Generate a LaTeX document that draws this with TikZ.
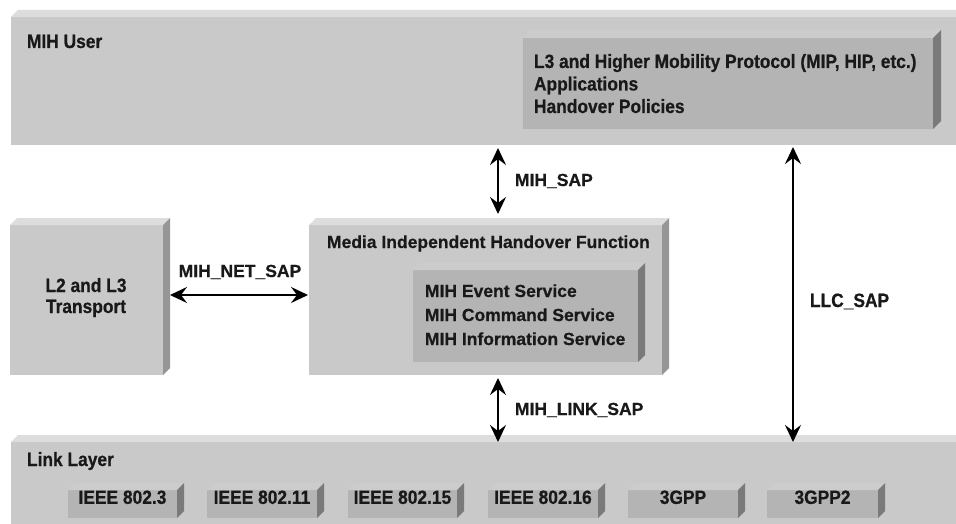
\documentclass[tikz,border=0pt]{standalone}
\usepackage{fontspec}
\setmainfont{Liberation Sans}
\newfontfamily\regf{Liberation Sans}[BoldFeatures={FakeBold=0.6}]
\newfontfamily\condf{Liberation Sans}[FakeStretch=0.9,BoldFeatures={FakeBold=0.6}]
\usetikzlibrary{arrows.meta,calc,fit}
\definecolor{outerface}{RGB}{201,201,201}
\definecolor{outertop}{RGB}{221,221,221}
\definecolor{outerside}{RGB}{150,150,150}
\definecolor{innerface}{RGB}{180,180,180}
\definecolor{innertop}{RGB}{204,204,204}
\definecolor{innerside}{RGB}{122,122,122}
\newcommand\bev[4]{%
  \fill[#3] (#1.north west) -- ++(#2,-#2) -- ($(#1.north east)+(#2,-#2)$) -- (#1.north east) -- cycle;
  \fill[#4] (#1.north east) -- ++(#2,-#2) -- ($(#1.south east)+(#2,-#2)$) -- (#1.south east) -- cycle;
}
\tikzset{
  outerbox/.style={fill=outerface, inner sep=0pt, outer sep=0pt},
  innerbox/.style={fill=innerface, inner sep=0pt, outer sep=0pt},
  regtxt/.style={inner sep=0pt, outer sep=0pt, text=black!90, font=\regf\bfseries\fontsize{17.5}{21}\selectfont},
  contxt/.style={inner sep=0pt, outer sep=0pt, text=black!90, font=\condf\bfseries\fontsize{19.3}{23}\selectfont},
  smallbox/.style={innerbox, text=black!90, font=\condf\bfseries\fontsize{19.3}{23}\selectfont, text height=13.8pt, text depth=0pt},
  tipshape/.tip={Stealth[length=17pt,width=16pt,inset=6pt]},
  dbl/.style={line width=2.3pt, black, tipshape-tipshape},
}
\begin{document}
\begin{tikzpicture}[x=1pt,y=-1pt]
\useasboundingbox[fill=white] (0,0) rectangle (956,524);

% MIH User
\node[outerbox, fit={(11,17) (980,145)}] (user) {};
\bev{user}{7}{outertop}{outerside}
\node[contxt, anchor=base west] (usertxt) at (27,48) {MIH User};
\node[innerbox, fit={(523,38) (933,129)}] (l3) {};
\bev{l3}{8}{innertop}{innerside}
\node[contxt, anchor=base west] (l3a) at (534,68) {L3 and Higher Mobility Protocol (MIP, HIP, etc.)};
\node[contxt, anchor=base west] (l3b) at (534,90.5) {Applications};
\node[contxt, anchor=base west] (l3c) at (534,113) {Handover Policies};

% L2 and L3 Transport
\node[outerbox, fit={(10,225) (163,375)}] (transport) {};
\bev{transport}{7}{outertop}{outerside}
\node[contxt, anchor=base] (tra) at (86,292) {L2 and L3};
\node[contxt, anchor=base] (trb) at (86,313) {Transport};

% MIH function
\node[outerbox, fit={(309,225) (662,375)}] (mihf) {};
\bev{mihf}{7}{outertop}{outerside}
\node[regtxt, anchor=base west] (mihftxt) at (327,248) {Media Independent Handover Function};
\node[innerbox, fit={(413,270) (638,362)}] (serv) {};
\bev{serv}{7}{innertop}{innerside}
\node[regtxt, anchor=base west] (sa) at (425,297) {MIH Event Service};
\node[regtxt, anchor=base west] (sb) at (425,321) {MIH Command Service};
\node[regtxt, anchor=base west] (sc) at (425,345) {MIH Information Service};

% Link layer
\node[outerbox, fit={(11,442) (980,540)}] (link) {};
\bev{link}{7}{outertop}{outerside}
\node[contxt, anchor=base west] (linktxt) at (27,466) {Link Layer};
\node[smallbox, fit={(68,490) (177,518)}] (e3) {IEEE 802.3};
\bev{e3}{7}{innertop}{innerside}
\node[smallbox, fit={(207,490) (317,518)}] (e11) {IEEE 802.11};
\bev{e11}{7}{innertop}{innerside}
\node[smallbox, fit={(348,490) (457,518)}] (e15) {IEEE 802.15};
\bev{e15}{7}{innertop}{innerside}
\node[smallbox, fit={(488,490) (598,518)}] (e16) {IEEE 802.16};
\bev{e16}{7}{innertop}{innerside}
\node[smallbox, fit={(628,490) (738,518)}] (g1) {3GPP};
\bev{g1}{7}{innertop}{innerside}
\node[smallbox, fit={(767,490) (878,518)}] (g2) {3GPP2};
\bev{g2}{7}{innertop}{innerside}

% connectors
\coordinate (xsap) at (498,0);
\coordinate (xllc) at (793,0);
\coordinate (ynet) at (0,295);
\draw[dbl] ($(user.south -| xsap)+(0,3)$) -- ($(mihf.north -| xsap)+(0,-11)$);
\draw[dbl] ($(mihf.south -| xsap)+(0,3)$) -- ($(link.north -| xsap)+(0,0)$);
\draw[dbl] ($(user.south -| xllc)+(0,2)$) -- ($(link.north -| xllc)+(0,0)$);
\draw[dbl] ($(transport.east |- ynet)+(7,0)$) -- ($(mihf.west |- ynet)+(-1,0)$);

\node[regtxt, anchor=base west] (sapl) at (515,186) {MIH\_SAP};
\node[regtxt, anchor=base west] (linksapl) at (515,415) {MIH\_LINK\_SAP};
\node[regtxt, anchor=base] (netsapl) at (240,277) {MIH\_NET\_SAP};
\node[contxt, anchor=base west] (llcl) at (810,307) {LLC\_SAP};
\end{tikzpicture}
\end{document}
